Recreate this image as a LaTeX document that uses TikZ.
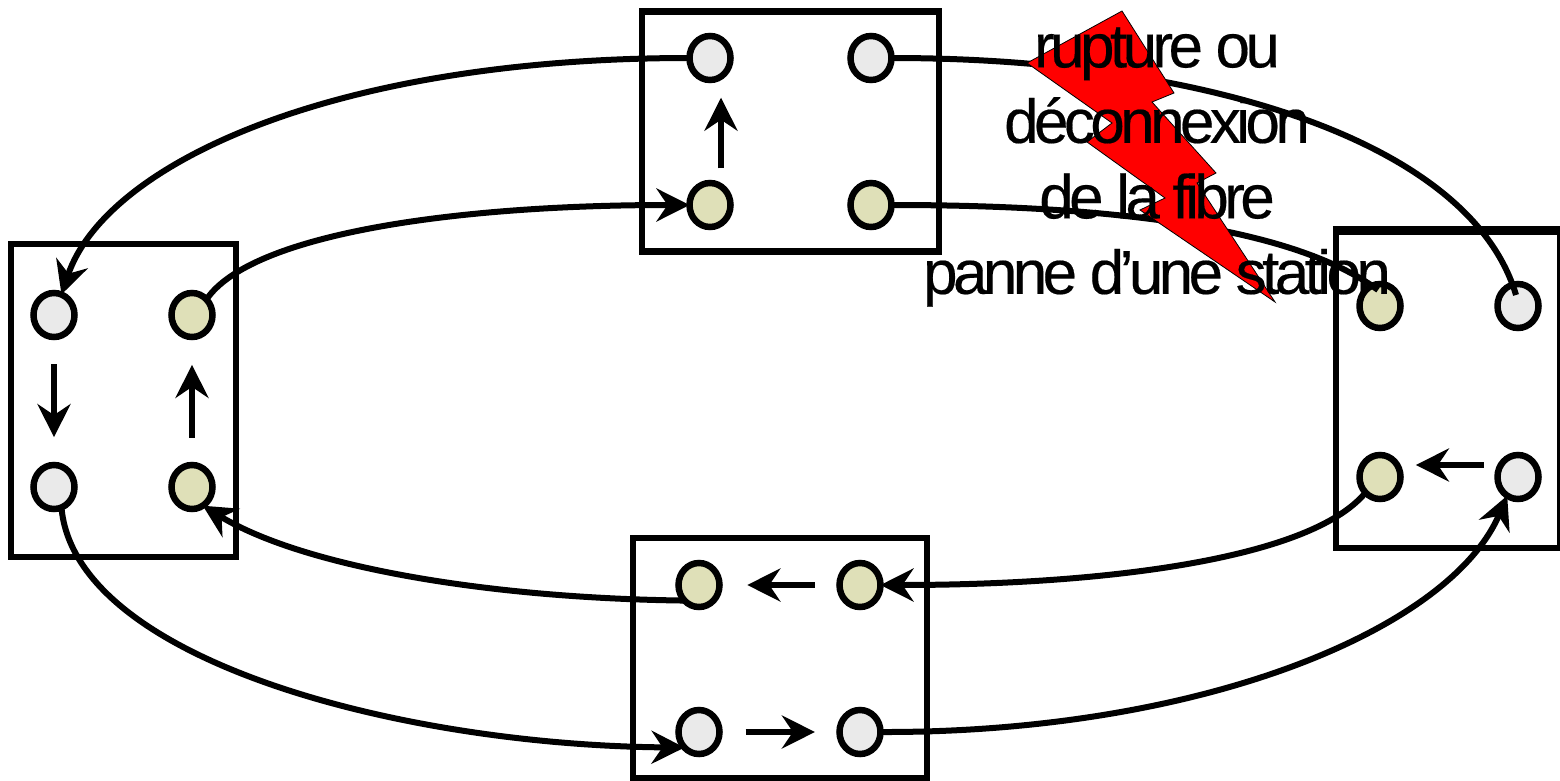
\documentclass[tikz,border=0pt]{standalone}
\usepackage{fontspec}
\setmainfont{Liberation Sans}
\newfontfamily\labelfont[LetterSpace=-7.4,FakeBold=0.3]{Liberation Sans}
\usetikzlibrary{arrows.meta,calc,shapes.geometric}
\definecolor{portgray}{HTML}{EAEAEA}
\definecolor{portkhaki}{HTML}{DFE0B8}
\tikzset{
 station/.style={draw,line width=6.5pt,rectangle,inner sep=0pt},
 port/.style={draw,line width=6.5pt,ellipse,inner sep=0pt,outer sep=0pt,minimum width=41pt,minimum height=44pt},
 fibre/.style={line width=6pt,-{Stealth[length=33pt,width=33pt,inset=11pt]}},
 plain fibre/.style={line width=6pt}
}
\begin{document}
\begin{tikzpicture}[x=1pt,y=-1pt]
 \useasboundingbox (0,0) rectangle (1560,781);
 \node [station,minimum width=297pt,minimum height=240pt] (top) at (790.5,131.5) {};
 \node [station,minimum width=225pt,minimum height=313pt] (left) at (123.5,400.5) {};
 \node [station,minimum width=294pt,minimum height=240pt] (bottom) at (780,658) {};
 \node [station,minimum width=224pt,minimum height=316pt] (right) at (1448,390) {};
 \draw [line width=9pt] ([yshift=-2pt]right.north west) -- ([yshift=-2pt]right.north east);
 \foreach \name/\x/\y in {tnw/710/58,tne/871/58,lnw/54/315,lsw/54/487,bsw/699/732,bse/860/732,rne/1518/306,rse/1518/477}
  \node [port,fill=portgray] (\name) at (\x,\y) {};
 \foreach \name/\x/\y in {tsw/710/205,tse/871/205,lne/192/315,lse/192/487,bnw/699/585,bne/860/585,rnw/1380/306,rsw/1380/477}
  \node [port,fill=portkhaki] (\name) at (\x,\y) {};
 \draw [fibre] (tnw.west) .. controls (330,58) and (105,165) .. (lnw.70);
 \draw [fibre] (lne.north east) .. controls (250,235) and (450,205) .. (tsw.west);
 \draw [fibre] (bnw.south west) .. controls (480,598) and (300,565) .. (lse.-60);
 \draw [fibre] (lsw.-70) .. controls (75,660) and (400,745) .. (bsw.south west);
 \draw [fibre] (bse.east) .. controls (1200,733) and (1450,630) .. (rse.-120);
 \draw [fibre] (rsw.south west) .. controls (1310,560) and (1100,585) .. (bne.east);
 \draw [plain fibre] (tne.east) .. controls (1200,58) and (1470,140) .. ($(rne.center)+(-2,-11)$);
 \draw [plain fibre] (tse.east) .. controls (1100,205) and (1290,225) .. ($(rnw.center)+(-2,-16)$);
 \draw [fibre] ($(tsw)!.25!(tnw)+(11,0)$) -- ($(tsw)!.73!(tnw)+(11,0)$);
 \draw [fibre] ($(lnw)!.285!(lsw)$) -- ($(lnw)!.71!(lsw)$);
 \draw [fibre] ($(lse)!.285!(lne)$) -- ($(lse)!.71!(lne)$);
 \draw [fibre] ($(bne)!.28!(bnw)$) -- ($(bne)!.70!(bnw)$);
 \draw [fibre] ($(bsw)!.29!(bse)$) -- ($(bsw)!.72!(bse)$);
 \draw [fibre] ($(rse)!.25!(rsw)+(0,-12)$) -- ($(rse)!.74!(rsw)+(0,-12)$);
 \draw [fill=red,line width=.8pt] (1027,63) -- (1122,11) -- (1174,93) -- (1152,102) -- (1216,173)
  -- (1197,183) -- (1275,302) -- (1140,210) -- (1165,198) -- (1087,142) -- (1112,123) -- cycle;
 \node [align=center,inner sep=0pt,font=\labelfont\fontsize{62}{75.5}\selectfont] (label) at (1157,167)
  {rupture ou\\déconnexion\\de la fibre\\panne d’une station};
\end{tikzpicture}
\end{document}
